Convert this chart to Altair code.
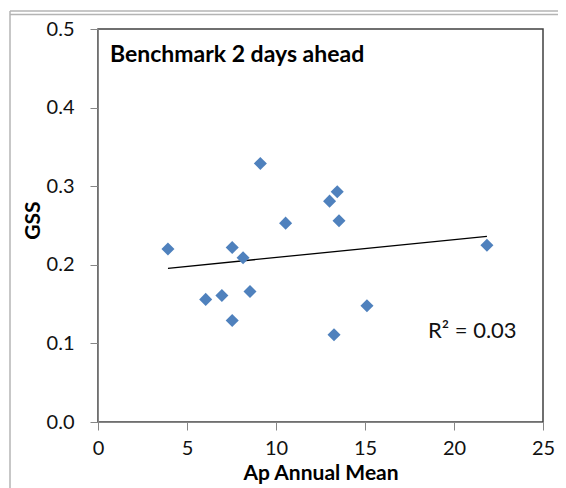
import altair as alt
import pandas as pd

# Data
ap_mean = [3.93, 9.12, 10.54, 13.01, 13.44, 13.54, 7.54, 8.15, 6.05, 6.96, 8.54, 7.54, 15.11, 13.26, 21.85]
gss = [0.220, 0.329, 0.253, 0.281, 0.293, 0.256, 0.222, 0.209, 0.156, 0.161, 0.166, 0.129, 0.148, 0.111, 0.225]
x_ticks = [0, 5, 10, 15, 20, 25]
y_ticks = [0.0, 0.1, 0.2, 0.3, 0.4, 0.5]
panel_label = "Benchmark 2 days ahead"
r2_label = "R² = 0.03"

FONT = "Lato"
df = pd.DataFrame({"ap": ap_mean, "gss": gss})
one = pd.DataFrame({"k": [0]})

xenc = alt.X("ap:Q", scale=alt.Scale(domain=[0, 25], nice=False),
             axis=alt.Axis(values=x_ticks, title="Ap Annual Mean", grid=False, labelFlush=False,
                           domainColor="#868686", tickColor="#868686", tickSize=8,
                           labelPadding=8, labelFontSize=20, labelFont=FONT, labelColor="#111111",
                           titleFont=FONT, titleFontSize=21, titleFontWeight="bold",
                           titleY=57, titleBaseline="alphabetic", titleColor="#000000"))
yenc = alt.Y("gss:Q", scale=alt.Scale(domain=[0, 0.5], nice=False),
             axis=alt.Axis(values=y_ticks, format=".1f", title="GSS", grid=False,
                           domainColor="#868686", tickColor="#868686", tickSize=8,
                           labelPadding=16, labelFontSize=20, labelFont=FONT, labelColor="#111111",
                           titleFont=FONT, titleFontSize=21, titleFontWeight="bold",
                           titleAngle=-90, titleX=-65, titleY=191, titleAlign="center",
                           titleBaseline="middle", titleColor="#000000"))

points = alt.Chart(df).mark_point(shape="diamond", filled=True, size=170, color="#4F81BD", opacity=1).encode(
    x=xenc, y=yenc)

trend = alt.Chart(df).transform_regression("ap", "gss").mark_line(color="#000000", strokeWidth=1.3).encode(
    x="ap:Q", y="gss:Q")

label = alt.Chart(one).mark_text(text=panel_label, font=FONT, fontSize=23, fontWeight="bold",
                                  align="left", baseline="alphabetic", color="#000000").encode(
    x=alt.value(12), y=alt.value(33))

r2 = alt.Chart(one).mark_text(text=r2_label, font=FONT, fontSize=22, align="left",
                               baseline="middle", color="#111111").encode(
    x=alt.value(330), y=alt.value(302))

frame_top1 = alt.Chart(one).mark_rule(color="#b4b4b4", strokeWidth=1.5).encode(
    x=alt.value(-88), x2=alt.value(600), y=alt.value(-18))
frame_top2 = alt.Chart(one).mark_rule(color="#b4b4b4", strokeWidth=1.5).encode(
    x=alt.value(-88), x2=alt.value(600), y=alt.value(-14.5))
frame_left = alt.Chart(one).mark_rule(color="#b4b4b4", strokeWidth=1.5).encode(
    x=alt.value(-88), y=alt.value(-18), y2=alt.value(600))

chart = alt.layer(frame_top1, frame_top2, frame_left, trend, points, label, r2).properties(
    width=445, height=393,
    autosize=alt.AutoSizeParams(type="none"),
    padding={"left": 90, "top": 21, "right": 15, "bottom": 66},
    background="#ffffff",
).configure_view(stroke="#404040", strokeWidth=1.5)

chart.save("out.html", embed_options={"renderer": "svg", "actions": False})
